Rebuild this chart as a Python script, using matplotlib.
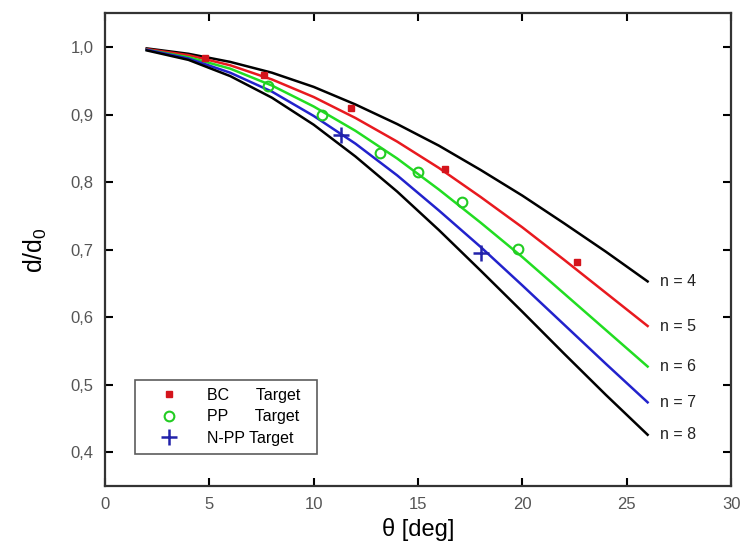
import numpy as np
import matplotlib.pyplot as plt
from matplotlib.ticker import FuncFormatter

plt.rcParams['font.family'] = ['Liberation Sans', 'DejaVu Sans']

# angle grid used for the model curves
theta = [2, 4, 6, 8, 10, 12, 14, 16, 18, 20, 22, 24, 26]

curve_n4 = [0.998, 0.990, 0.978, 0.962, 0.941, 0.915, 0.886, 0.854, 0.818, 0.780, 0.739, 0.697, 0.653]
curve_n5 = [0.997, 0.988, 0.973, 0.952, 0.926, 0.895, 0.860, 0.821, 0.778, 0.733, 0.685, 0.636, 0.587]
curve_n6 = [0.996, 0.985, 0.968, 0.943, 0.912, 0.876, 0.835, 0.789, 0.740, 0.689, 0.635, 0.581, 0.527]
curve_n7 = [0.996, 0.983, 0.962, 0.934, 0.898, 0.857, 0.810, 0.758, 0.704, 0.647, 0.589, 0.531, 0.474]
curve_n8 = [0.995, 0.981, 0.957, 0.925, 0.885, 0.838, 0.786, 0.729, 0.669, 0.608, 0.546, 0.485, 0.426]

curve_labels = ["n = 4", "n = 5", "n = 6", "n = 7", "n = 8"]
curve_colors = ["black", "#e8191f", "#22dd22", "#2222cc", "black"]

# measured targets
bc_theta = [4.8, 7.6, 11.8, 16.3, 22.6]
bc_val = [0.984, 0.958, 0.910, 0.819, 0.682]

pp_theta = [7.8, 10.4, 13.2, 15.0, 17.1, 19.8]
pp_val = [0.943, 0.900, 0.843, 0.815, 0.770, 0.701]

npp_theta = [11.3, 18.0]
npp_val = [0.870, 0.695]

fig = plt.figure(figsize=(7.43, 5.53), dpi=100)
ax = fig.add_axes([0.1413, 0.121, 0.8427, 0.855])

curves = [curve_n4, curve_n5, curve_n6, curve_n7, curve_n8]
for vals, lab, col in zip(curves, curve_labels, curve_colors):
    ax.plot(theta, vals, color=col, lw=1.8, zorder=2)
    ax.text(theta[-1] + 0.6, vals[-1], lab, fontsize=11.5, color='#222222',
            va='center', ha='left')

ax.plot(bc_theta, bc_val, 's', color='#d4141c', ms=5, ls='none',
        label='BC      Target  ', zorder=3)
ax.plot(pp_theta, pp_val, 'o', mfc='none', mec='#22cc22', mew=1.5, ms=7,
        ls='none', label='PP      Target  ', zorder=3)
ax.plot(npp_theta, npp_val, '+', color='#2222aa', ms=11, mew=1.8,
        ls='none', label='N-PP Target  ', zorder=3)

ax.set_xlim(0, 30)
ax.set_ylim(0.35, 1.05)
ax.set_xticks([0, 5, 10, 15, 20, 25, 30])
ax.set_yticks([0.4, 0.5, 0.6, 0.7, 0.8, 0.9, 1.0])
ax.yaxis.set_major_formatter(FuncFormatter(lambda v, p: f"{v:.1f}".replace('.', ',')))
ax.tick_params(direction='in', top=True, right=True, length=6, width=1.5,
               labelsize=12, labelcolor='#555555', pad=8)
for s in ax.spines.values():
    s.set_linewidth(1.6)
    s.set_color('#333333')

ax.set_xlabel('θ [deg]', fontsize=17, labelpad=4)
ax.set_ylabel(r'd/d$_{\mathregular{0}}$', fontsize=18, labelpad=16)

leg = ax.legend(loc='lower left', bbox_to_anchor=(0.048, 0.068), fontsize=11.5,
                frameon=True, fancybox=False, edgecolor='#333333',
                handletextpad=0.8, borderpad=0.5, labelspacing=0.42,
                handlelength=3.2, borderaxespad=0)
leg.get_frame().set_linewidth(1.2)

fig.savefig('out.png', dpi=100)
